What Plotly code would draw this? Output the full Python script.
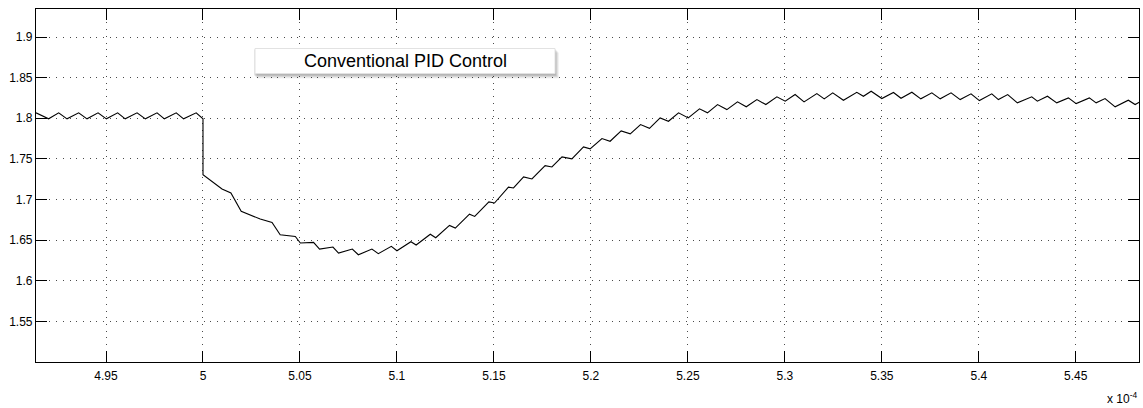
import plotly.graph_objects as go

# Output voltage before the load step (time in units of 1e-4 s)
t_pre = [4.9139, 4.9204, 4.9256, 4.9299, 4.9359, 4.9402, 4.9459, 4.9502, 4.9560,
         4.9599, 4.9660, 4.9703, 4.9763, 4.9801, 4.9862, 4.9900, 4.9965, 5.0000]
v_pre = [1.8067, 1.7993, 1.8067, 1.7993, 1.8067, 1.7993, 1.8067, 1.7993, 1.8067,
         1.7993, 1.8067, 1.7993, 1.8067, 1.7993, 1.8067, 1.7993, 1.8067, 1.7993]

# Transient after the step: undershoot and recovery
t_tr = [5.0000, 5.0098, 5.0144, 5.0197, 5.0295, 5.0356, 5.0398, 5.0476, 5.0502,
        5.0570, 5.0601, 5.0670, 5.0699, 5.0770, 5.0801, 5.0871, 5.0904, 5.0971,
        5.1000, 5.1072, 5.1099, 5.1172, 5.1200, 5.1271, 5.1301, 5.1374, 5.1401,
        5.1474, 5.1503, 5.1575, 5.1601, 5.1653, 5.1696, 5.1764, 5.1799, 5.1851,
        5.1902, 5.1962, 5.1996, 5.2057, 5.2099, 5.2156, 5.2203, 5.2256, 5.2302]
v_tr = [1.7306, 1.7130, 1.7081, 1.6854, 1.6760, 1.6718, 1.6567, 1.6546, 1.6464,
        1.6472, 1.6390, 1.6415, 1.6341, 1.6390, 1.6320, 1.6390, 1.6333, 1.6423,
        1.6369, 1.6480, 1.6440, 1.6573, 1.6530, 1.6681, 1.6649, 1.6819, 1.6792,
        1.6970, 1.6957, 1.7152, 1.7142, 1.7278, 1.7253, 1.7417, 1.7401, 1.7524,
        1.7500, 1.7648, 1.7623, 1.7750, 1.7717, 1.7845, 1.7808, 1.7922, 1.7876]

# Settling back with ripple
t_ss = [5.2357, 5.2400, 5.2452, 5.2502, 5.2560, 5.2601, 5.2653, 5.2701, 5.2756,
        5.2801, 5.2856, 5.2902, 5.2959, 5.3002, 5.3053, 5.3099, 5.3165, 5.3203,
        5.3247, 5.3302, 5.3371, 5.3405, 5.3445, 5.3500, 5.3560, 5.3599, 5.3655,
        5.3701, 5.3758, 5.3801, 5.3857, 5.3904, 5.3960, 5.4003, 5.4067, 5.4101,
        5.4149, 5.4199, 5.4273, 5.4302, 5.4354, 5.4402, 5.4462, 5.4502, 5.4570,
        5.4605, 5.4651, 5.4703, 5.4771, 5.4806, 5.4828]
v_ss = [1.8005, 1.7963, 1.8067, 1.8005, 1.8116, 1.8067, 1.8169, 1.8107, 1.8202,
        1.8141, 1.8230, 1.8169, 1.8264, 1.8210, 1.8292, 1.8202, 1.8304, 1.8239,
        1.8313, 1.8222, 1.8320, 1.8271, 1.8333, 1.8243, 1.8317, 1.8246, 1.8320,
        1.8239, 1.8313, 1.8239, 1.8313, 1.8230, 1.8301, 1.8218, 1.8301, 1.8230,
        1.8292, 1.8190, 1.8264, 1.8210, 1.8271, 1.8190, 1.8251, 1.8181, 1.8251,
        1.8190, 1.8243, 1.8141, 1.8222, 1.8169, 1.8197]

x_ticks = [4.95, 5.0, 5.05, 5.1, 5.15, 5.2, 5.25, 5.3, 5.35, 5.4, 5.45]
x_labels = ["4.95", "5", "5.05", "5.1", "5.15", "5.2", "5.25", "5.3", "5.35", "5.4", "5.45"]
y_ticks = [1.55, 1.6, 1.65, 1.7, 1.75, 1.8, 1.85, 1.9]
y_labels = ["1.55", "1.6", "1.65", "1.7", "1.75", "1.8", "1.85", "1.9"]

legend_text = "Conventional PID Control"

W, H = 1143, 408
ML, MR, MT, MB = 36, 4, 9, 46
PW, PH = W - ML - MR, H - MT - MB


def px(x):
    return (x - ML) / PW


def py(y):
    return (H - MB - y) / PH


FONT = "Liberation Sans, Arial, Helvetica, sans-serif"

fig = go.Figure()
fig.add_trace(go.Scatter(
    x=t_pre + t_tr + t_ss, y=v_pre + v_tr + v_ss,
    mode="lines", line=dict(color="black", width=1.1),
    name=legend_text, showlegend=False, hoverinfo="skip"))

axis_common = dict(
    showline=True, linecolor="black", linewidth=1.2, mirror="ticks",
    ticks="inside", ticklen=11, tickwidth=1, tickcolor="black",
    showgrid=True, gridcolor="#4a4a4a", gridwidth=1, griddash="1px,5.7px",
    zeroline=False, tickfont=dict(family=FONT, size=12, color="black"),
)

fig.update_xaxes(range=[4.9139, 5.4826], tickvals=x_ticks, ticktext=x_labels,
                 ticklabelstandoff=2, **axis_common)
fig.update_yaxes(range=[1.5, 1.9345], tickvals=y_ticks, ticktext=y_labels,
                 **axis_common)

# legend-style box with a soft drop shadow
bx0, bx1, by0, by1 = 255, 555, 48.5, 73.5
shapes = []
for d, a in [(4, 0.05), (3, 0.07), (2, 0.09), (1, 0.10)]:
    shapes.append(dict(type="rect", xref="paper", yref="paper", layer="above",
                       x0=px(bx0 + d - 2), x1=px(bx1 + d), y0=py(by1 + d + 1), y1=py(by0 + d),
                       line=dict(width=0), fillcolor=f"rgba(0,0,0,{a})"))
shapes.append(dict(type="rect", xref="paper", yref="paper", layer="above",
                   x0=px(bx0), x1=px(bx1), y0=py(by1), y1=py(by0),
                   line=dict(color="#e2e2e2", width=1), fillcolor="white"))

fig.update_layout(
    width=W, height=H,
    margin=dict(l=ML, r=MR, t=MT, b=MB),
    paper_bgcolor="white", plot_bgcolor="white",
    shapes=shapes,
    annotations=[
        dict(text=legend_text, xref="paper", yref="paper",
             x=px((bx0 + bx1) / 2), y=py((by0 + by1) / 2),
             xanchor="center", yanchor="middle", showarrow=False,
             font=dict(family=FONT, size=18, color="black")),
        dict(text="x 10<sup>-4</sup>", xref="paper", yref="paper",
             x=1.0, y=py(398), xanchor="right", yanchor="middle",
             showarrow=False, font=dict(family=FONT, size=12, color="black")),
    ],
)

fig.write_html("out.html")
